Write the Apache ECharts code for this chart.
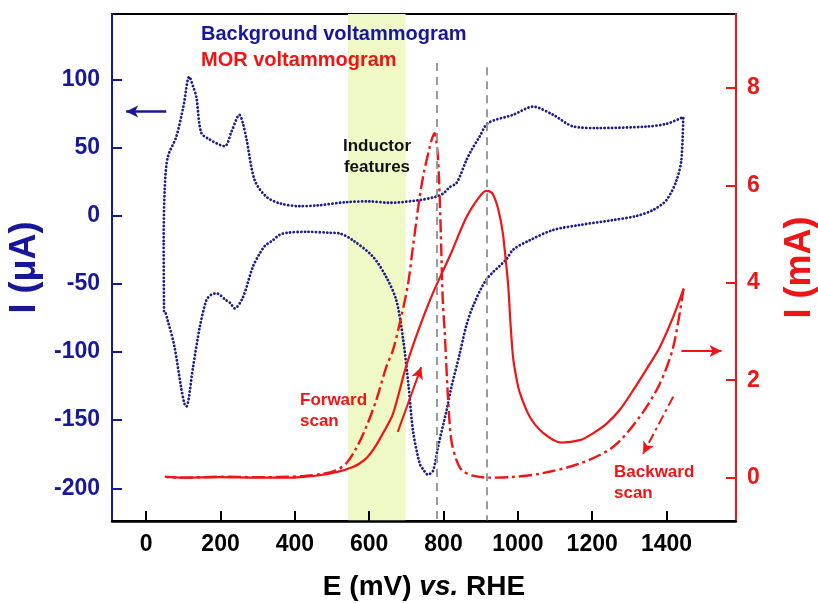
<!DOCTYPE html>
<html>
<head>
<meta charset="utf-8">
<script src="https://cdn.jsdelivr.net/npm/echarts@6/dist/echarts.min.js"></script>
<style>
  html, body { margin: 0; padding: 0; background: #fff; }
  #chart { width: 818px; height: 603px; }
</style>
</head>
<body>
<div id="chart"></div>
<script>
// Potential axis (mV vs. RHE) ticks
const eTicks = [0, 200, 400, 600, 800, 1000, 1200, 1400];
// Left axis: background current (µA); right axis: MOR current (mA)
const uaTicks = [-200, -150, -100, -50, 0, 50, 100];
const maTicks = [0, 2, 4, 6, 8];

// Background voltammogram (blue dotted loop), E in mV, I in µA
const bgE = [48, 47, 50, 58, 81, 100, 116, 126, 135, 148, 170, 211, 230, 251, 260, 270, 292, 323, 360, 413, 460, 540, 600, 655, 736, 780, 800, 817, 835, 862, 875, 897, 920, 987, 1041, 1095, 1149, 1212, 1346, 1400, 1445,
             1440, 1427, 1400, 1364, 1319, 1256, 1167, 1095, 1032, 987, 969, 915, 880, 861, 843, 821, 808, 785, 772, 758, 745, 736, 718, 706, 691, 673, 646, 610, 556, 520, 493, 431, 380, 359, 341, 320, 305, 287, 260, 238, 226, 215, 189, 175, 162, 144, 126, 108, 103, 94, 76, 58, 49, 48];
const bgI = [-70, -20, 20, 43, 58, 80, 102, 95, 87, 61, 56, 51, 62, 74, 68, 56, 26, 14, 9, 7, 7.5, 10, 10.5, 9.5, 11.5, 14, 16.5, 21, 24, 41, 48, 58, 68, 74, 80, 74, 65.5, 64.3, 65.4, 67.4, 72.4,
             41, 26, 11.5, 4.2, -0.2, -3.2, -6.8, -10.5, -18, -25, -32, -47, -66, -81, -102, -126, -143, -170, -187, -190, -186, -182, -158, -125, -90, -62, -45, -30, -18, -13, -12.5, -11.8, -12.5, -14, -18, -22, -28, -37.5, -60, -68, -64, -62, -57, -58, -62, -82, -111, -140, -138, -126, -96, -77, -70, -70];

// MOR forward scan (solid red), E in mV, I in mA
const fwdE = [50, 100, 200, 300, 395, 430, 467, 520, 556, 574, 595, 615, 640, 664, 700, 736, 772, 817, 862, 897, 915, 930, 942, 952, 960, 967, 974, 980, 987, 996, 1005, 1032, 1068, 1117, 1167, 1200, 1239, 1275, 1310, 1348, 1382, 1418, 1446];
const fwdI = [0.02, 0.0, 0.01, 0.0, 0.0, 0.02, 0.05, 0.13, 0.22, 0.29, 0.42, 0.62, 0.95, 1.31, 2.3, 3.1, 3.8, 4.55, 5.35, 5.77, 5.89, 5.85, 5.65, 5.35, 5.0, 4.5, 3.95, 3.2, 2.48, 2.05, 1.75, 1.25, 0.92, 0.72, 0.77, 0.9, 1.11, 1.4, 1.79, 2.25, 2.68, 3.3, 3.88];

// MOR backward scan (dash-dot red), E in mV, I in mA
const bwdE = [1446, 1418, 1382, 1328, 1256, 1167, 1059, 980, 924, 879, 850, 835, 821, 812, 803, 798, 794, 790, 785, 780, 776, 770, 763, 745, 731, 718, 704, 682, 664, 646, 619, 592, 565, 538, 511, 475, 420, 300, 200, 100, 55];
const bwdI = [3.88, 2.68, 1.93, 1.25, 0.63, 0.29, 0.08, 0.01, 0.0, 0.04, 0.15, 0.36, 0.77, 1.66, 3.03, 3.64, 4.67, 5.7, 6.59, 6.95, 7.07, 6.98, 6.79, 6.18, 5.5, 4.75, 3.95, 3.16, 2.62, 2.27, 1.59, 1.04, 0.6, 0.29, 0.15, 0.08, 0.03, 0.01, 0.02, 0.0, 0.01];

// Potential window where inductor features appear (mV)
const inductorBand = [543, 698];
// Characteristic potentials marked with dashed lines (mV)
const peakPotentials = [781, 915];

const BLUE = '#17179a';
const NAVY = '#1d1d8c';
const RED = '#f01515';
const FONT = '"Liberation Sans", Arial, sans-serif';

const zip = (xs, ys) => xs.map((x, i) => [x, ys[i]]);
const plain = v => String(v);

const chart = echarts.init(document.getElementById('chart'), null, { renderer: 'canvas' });

const arrowEnd = (coord, style) => [
  { coord: coord[0], symbol: 'none' },
  { coord: coord[1], symbol: 'arrow', symbolSize: [9, 12], lineStyle: style }
];

chart.setOption({
  animation: false,
  backgroundColor: '#fff',
  textStyle: { fontFamily: FONT },
  grid: {
    left: 112, right: 82, top: 14, bottom: 82,
    containLabel: false, outerBoundsMode: 'none',
    show: true, borderColor: '#000', borderWidth: 2, backgroundColor: 'transparent'
  },
  xAxis: {
    type: 'value', min: -92, max: 1587, z: 10,
    axisLine: { onZero: false, lineStyle: { color: '#000', width: 2.5 } },
    axisTick: { inside: true, length: 10, customValues: eTicks, lineStyle: { color: '#000', width: 2 } },
    axisLabel: { customValues: eTicks, formatter: plain, fontSize: 23, fontWeight: 'bold', color: '#000', margin: 12, fontFamily: FONT },
    splitLine: { show: false },
    name: '{a|E (mV) }{b|vs.}{a| RHE}',
    nameLocation: 'middle', nameGap: 52,
    nameTextStyle: {
      rich: {
        a: { fontSize: 28, fontWeight: 'bold', color: '#000', fontFamily: FONT },
        b: { fontSize: 28, fontWeight: 'bold', fontStyle: 'italic', color: '#000', fontFamily: FONT }
      }
    }
  },
  yAxis: [
    {
      type: 'value', position: 'left', min: -224, max: 148, z: 10,
      axisLine: { onZero: false, lineStyle: { color: BLUE, width: 2 } },
      axisTick: { inside: true, length: 10, customValues: uaTicks, lineStyle: { color: BLUE, width: 2 } },
      axisLabel: { customValues: uaTicks, formatter: plain, fontSize: 23, fontWeight: 'bold', color: BLUE, margin: 12, fontFamily: FONT },
      splitLine: { show: false },
      name: 'I (μA)', nameLocation: 'middle', nameGap: 64, nameRotate: 90,
      nameTextStyle: { fontSize: 36, fontWeight: 'bold', color: BLUE, fontFamily: FONT }
    },
    {
      type: 'value', position: 'right', min: -0.89, max: 9.52, z: 10,
      axisLine: { onZero: false, lineStyle: { color: RED, width: 2 } },
      axisTick: { inside: true, length: 10, customValues: maTicks, lineStyle: { color: RED, width: 2 } },
      axisLabel: { customValues: maTicks, formatter: plain, fontSize: 23, fontWeight: 'bold', color: RED, margin: 11, fontFamily: FONT },
      splitLine: { show: false },
      name: 'I (mA)', nameLocation: 'middle', nameGap: 46, nameRotate: 90,
      nameTextStyle: { fontSize: 36, fontWeight: 'bold', color: RED, fontFamily: FONT }
    }
  ],
  series: [
    {
      // inductor-feature potential window
      type: 'line', data: [], z: 1, silent: true,
      markArea: {
        silent: true,
        itemStyle: { color: '#eef9c6' },
        data: [[{ xAxis: inductorBand[0] }, { xAxis: inductorBand[1] }]]
      }
    },
    {
      name: 'Background voltammogram', type: 'line', yAxisIndex: 0, z: 3,
      data: zip(bgE, bgI), showSymbol: false, smooth: 0.3,
      lineStyle: { color: NAVY, width: 2.8, type: [0.1, 3.6], cap: 'round' },
      markLine: {
        silent: true, animation: false, label: { show: false },
        data: [
          arrowEnd([[54, 76.5], [-54, 76.5]], { color: BLUE, width: 2.5, type: 'solid' }),
          [{ coord: [peakPotentials[0], 112], symbol: 'none', lineStyle: { color: '#9a9a9a', width: 2, type: [8, 6] } },
           { coord: [peakPotentials[0], -224], symbol: 'none' }],
          [{ coord: [peakPotentials[1], 109], symbol: 'none', lineStyle: { color: '#9a9a9a', width: 2, type: [8, 6] } },
           { coord: [peakPotentials[1], -224], symbol: 'none' }]
        ],
        lineStyle: { color: BLUE, width: 2.5, type: 'solid' }
      }
    },
    {
      name: 'Forward scan', type: 'line', yAxisIndex: 1, z: 4,
      data: zip(fwdE, fwdI), showSymbol: false, smooth: 0.3,
      lineStyle: { color: RED, width: 2.2 },
      markLine: {
        silent: true, animation: false, label: { show: false },
        lineStyle: { color: RED, width: 2, type: 'solid' },
        data: [
          arrowEnd([[677, 0.94], [740, 2.27]], { color: RED, width: 2, type: 'solid' }),
          arrowEnd([[1440, 2.6], [1548, 2.6]], { color: RED, width: 2, type: 'solid' })
        ]
      }
    },
    {
      name: 'Backward scan', type: 'line', yAxisIndex: 1, z: 4,
      data: zip(bwdE, bwdI), showSymbol: false, smooth: 0.3,
      lineStyle: { color: RED, width: 2.4, type: [13, 4, 3, 4] },
      markLine: {
        silent: true, animation: false, label: { show: false },
        lineStyle: { color: RED, width: 2, type: [10, 4, 3, 4] },
        data: [
          arrowEnd([[1418, 1.66], [1337, 0.49]], { color: RED, width: 2, type: [10, 4, 3, 4] })
        ]
      }
    }
  ],
  graphic: [
    { type: 'text', z: 100, left: 201, top: 24, style: { text: 'Background voltammogram', fill: BLUE, font: 'bold 20px ' + FONT } },
    { type: 'text', z: 100, left: 201, top: 50, style: { text: 'MOR voltammogram', fill: RED, font: 'bold 20px ' + FONT } },
    { type: 'text', z: 100, x: 377, y: 136, style: { text: 'Inductor\nfeatures', fill: '#111', font: 'bold 17px ' + FONT, align: 'center', verticalAlign: 'top', lineHeight: 21 } },
    { type: 'text', z: 100, x: 300, y: 390, style: { text: 'Forward\nscan', fill: RED, font: 'bold 17px ' + FONT, align: 'left', verticalAlign: 'top', lineHeight: 21 } },
    { type: 'text', z: 100, x: 614, y: 462, style: { text: 'Backward\nscan', fill: RED, font: 'bold 17px ' + FONT, align: 'left', verticalAlign: 'top', lineHeight: 21 } }
  ]
});
</script>
</body>
</html>
